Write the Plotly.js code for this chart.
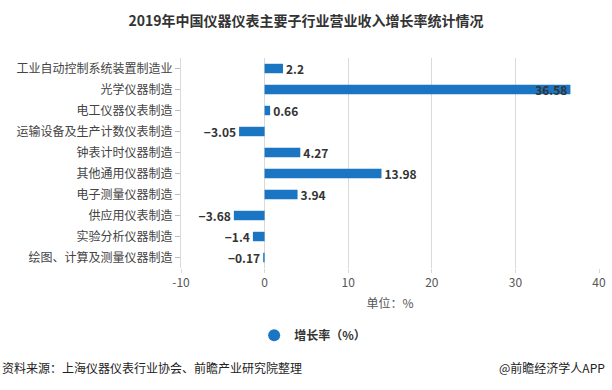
<!DOCTYPE html>
<html><head><meta charset="utf-8">
<script src="https://cdn.plot.ly/plotly-3.0.1.min.js"></script>
<style>html,body{margin:0;padding:0;background:#fff;}#chart{width:612px;height:390px;}</style>
</head><body><div id="chart"></div>
<script>
const categories = ["工业自动控制系统装置制造业","光学仪器制造","电工仪器仪表制造","运输设备及生产计数仪表制造","钟表计时仪器制造","其他通用仪器制造","电子测量仪器制造","供应用仪表制造","实验分析仪器制造","绘图、计算及测量仪器制造"];
const growth = [2.2, 36.58, 0.66, -3.05, 4.27, 13.98, 3.94, -3.68, -1.4, -0.17];
const seriesName = "增长率（%）";
const xTicks = [-10, 0, 10, 20, 30, 40];

const labels = growth.map(v => v < 0 ? "−" + Math.abs(v) : String(v));
const positions = growth.map(v => v > 30 ? "inside" : "outside");
const font = "'Microsoft YaHei','Noto Sans CJK SC','Noto Sans',sans-serif";
const color = "#1a75c2";

const data = [{
  type: "bar", orientation: "h",
  y: categories, x: growth,
  marker: {color: color},
  width: 0.45,
  text: labels, textposition: positions, insidetextanchor: "end",
  constraintext: "none",
  textfont: {family: font, size: 12, color: "#333", weight: "bold"},
  insidetextfont: {family: font, size: 12, color: "#333", weight: "bold"},
  outsidetextfont: {family: font, size: 12, color: "#333", weight: "bold"},
  cliponaxis: false,
  showlegend: false, hoverinfo: "none"
},{
  type: "scatter", mode: "markers", x: [null], y: [null],
  name: seriesName, marker: {symbol: "circle", size: 12, color: color},
  showlegend: true
}];

const layout = {
  width: 612, height: 390,
  margin: {l: 181, r: 13, t: 58, b: 122},
  paper_bgcolor: "#fff", plot_bgcolor: "#fff",
  font: {family: font, size: 12, color: "#444"},
  uniformtext: {mode: "show", minsize: 12},
  title: {text: "2019年中国仪器仪表主要子行业营业收入增长率统计情况", x: 0.5, xanchor: "center", y: 0.945, yanchor: "middle",
          font: {family: font, size: 14, color: "#333", weight: "bold"}},
  xaxis: {range: [-10, 40], tickvals: xTicks, ticktext: xTicks.map(String),
          showgrid: true, gridcolor: "#d9d9d9", gridwidth: 1, zeroline: false,
          showline: false, ticks: "outside", ticklen: 4, tickcolor: "#d9d9d9",
          tickfont: {size: 12, color: "#555"},
          title: {text: "单位：%", standoff: 10, font: {size: 12, color: "#555"}}},
  yaxis: {autorange: "reversed", type: "category", showline: true, linecolor: "#d9d9d9",
          ticks: "outside", ticklen: 5, tickcolor: "#bbb",
          tickfont: {size: 12, color: "#444"}, showgrid: false, zeroline: false},
  legend: {orientation: "h", x: 0.175, xanchor: "left", y: -0.32, yanchor: "middle",
           font: {size: 12, color: "#333", weight: "bold"}},
  annotations: [
    {text: "资料来源：上海仪器仪表行业协会、前瞻产业研究院整理", xref: "paper", yref: "paper", x: -181/418, xanchor: "left", y: -0.475, yanchor: "middle", showarrow: false, font: {size: 12, color: "#222"}},
    {text: "@前瞻经济学人APP", xref: "paper", yref: "paper", x: 1.02, xanchor: "right", y: -0.475, yanchor: "middle", showarrow: false, font: {size: 12, color: "#222"}}
  ]
};
Plotly.newPlot("chart", data, layout, {displayModeBar: false, staticPlot: true});
</script></body></html>
